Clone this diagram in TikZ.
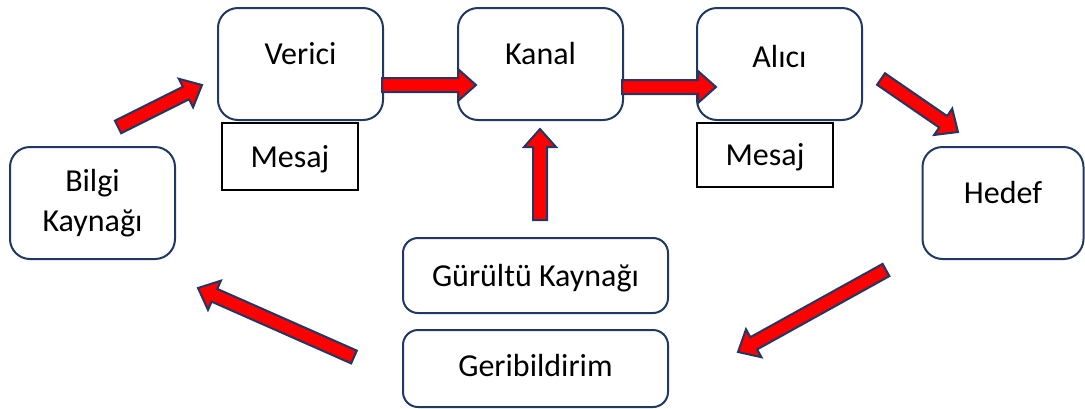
\documentclass[tikz,border=0pt]{standalone}
\usepackage{fontspec}
\setmainfont{Carlito}
\usetikzlibrary{calc}
\definecolor{navy}{HTML}{1F3864}
\definecolor{flowred}{HTML}{FF0000}

% block arrow from tail #1 to tip #2
\newcommand{\blockarrow}[2]{%
  \coordinate (hb) at ($(#2)!18pt!(#1)$);
  \filldraw[flow] ($(#1)!7pt!90:(#2)$) -- ($(hb)!7pt!90:(#2)$) -- ($(hb)!16pt!90:(#2)$) -- (#2)
    -- ($(hb)!16pt!-90:(#2)$) -- ($(hb)!7pt!-90:(#2)$) -- ($(#1)!7pt!-90:(#2)$) -- cycle;
}

\begin{document}
\begin{tikzpicture}[x=1pt, y=-1pt, font=\fontsize{32}{40}\selectfont,
		box/.style = {draw=navy, line width=2pt, rounded corners=20pt, minimum width=165pt, minimum height=112pt, align=center, inner sep=0pt},
		wide/.style = {draw=navy, line width=2pt, rounded corners=15pt, minimum width=265pt, inner sep=0pt, text height=22pt, text depth=1pt},
		msg/.style = {draw=black, line width=2pt, minimum width=136pt, inner sep=0pt, text height=22pt, text depth=1pt},
		flow/.style = {fill=flowred, draw=navy, line width=2pt, line join=miter}]
	\useasboundingbox (0,0) rectangle (1085,408);
	
	\node[box, text height=22pt, text depth=22pt] (verici) at (300.5,64) {Verici};
	\node[box, text height=22pt, text depth=22pt] (kanal) at (540.5,64) {Kanal};
	\node[box, text height=22pt, text depth=16pt] (alici) at (779.5,64) {Alıcı};
	\node[box] (bilgi) at (92.5,203) {Bilgi\\Kaynağı};
	\node[box, minimum width=161pt, text height=22pt, text depth=22pt] (hedef) at (1003,203) {Hedef};
	
	\node[msg, minimum height=67pt] (mesaj1) at (290,156.5) {Mesaj};
	\node[msg, minimum height=64pt] (mesaj2) at (765,155) {Mesaj};
	
	\node[wide, minimum height=75pt] (gurultu) at (535.5,275.5) {Gürültü Kaynağı};
	\node[wide, minimum height=77pt, text depth=7pt] (geri) at (535.5,368.5) {Geribildirim};
	
	% arrow ends
	\coordinate (t1) at (118,127);  \coordinate (h1) at (202,85);
	\coordinate (t2) at (382,85);   \coordinate (h2) at (476,85);
	\coordinate (t3) at (622,87);   \coordinate (h3) at (716,87);
	\coordinate (t4) at (881,79);   \coordinate (h4) at (958,132);
	\coordinate (t5) at (540,220);  \coordinate (h5) at (540,129);
	\coordinate (t6) at (886,270);  \coordinate (h6) at (738,352);
	\coordinate (t7) at (354,357);  \coordinate (h7) at (198,288);
	
	\blockarrow{t1}{h1}
	\blockarrow{t2}{h2}
	\blockarrow{t3}{h3}
	\blockarrow{t4}{h4}
	\blockarrow{t5}{h5}
	\blockarrow{t6}{h6}
	\blockarrow{t7}{h7}
	
\end{tikzpicture}
\end{document}
